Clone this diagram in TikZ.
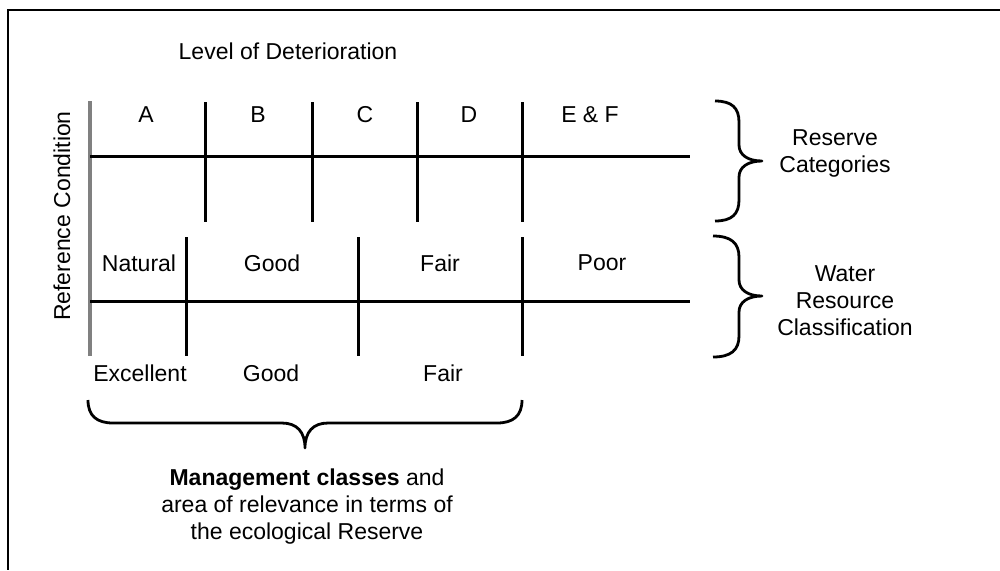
\documentclass[tikz,border=0pt]{standalone}
\usepackage{fontspec}
\setmainfont{Liberation Sans}
\begin{document}
\begin{tikzpicture}[x=0.5pt, y=-0.5pt, font=\fontsize{11.5}{13.5}\selectfont,
    grid line/.style={line width=1.5pt},
    ref line/.style={line width=2pt, black!50},
    brace line/.style={line width=1.4pt, line join=round},
    lbl/.style={inner sep=0pt}]
  \useasboundingbox (0,0) rectangle (1000,570);

  % frame (cut at right and bottom)
  \draw[line width=1pt] (1000,9.5) -- (7.5,9.5) -- (7.5,570);

  % titles
  \node[lbl] (title) at (288,51) {Level of Deterioration};
  \node[lbl, rotate=90] (refcond) at (62,216) {Reference Condition};

  % reference condition line
  \draw[ref line] (90,101) -- (90,356);

  % reserve categories grid
  \draw[grid line] (90,156) -- (690,156);
  \foreach \x in {205,312,417,522}
    \draw[grid line] (\x,102) -- (\x,222);
  \node[lbl] (catA) at (146,115) {A};
  \node[lbl] (catB) at (258,115) {B};
  \node[lbl] (catC) at (365,115) {C};
  \node[lbl] (catD) at (469,115) {D};
  \node[lbl] (catEF) at (590,115) {E \& F};

  % water resource classification grid
  \draw[grid line] (90,301) -- (690,301);
  \foreach \x in {186,358,522}
    \draw[grid line] (\x,237) -- (\x,356);
  \node[lbl] (natural) at (139,263) {Natural};
  \node[lbl] (good) at (272,263) {Good};
  \node[lbl] (fair) at (440,263) {Fair};
  \node[lbl] (poor) at (602,263) {Poor};

  % management classes
  \node[lbl] (excellent) at (140,373) {Excellent};
  \node[lbl] (mgood) at (271,373) {Good};
  \node[lbl] (mfair) at (443,373) {Fair};

  % right braces
  \draw[brace line] (715,101) .. controls (732,101) and (739,108) .. (739,122)
    -- (739,145) .. controls (739,155) and (748,161) .. (762,161)
    .. controls (748,161) and (739,167) .. (739,177)
    -- (739,200) .. controls (739,214) and (732,221) .. (715,221);
  \draw[brace line] (713,236) .. controls (731,236) and (739,243) .. (739,257)
    -- (739,280) .. controls (739,290) and (748,296) .. (762,296)
    .. controls (748,296) and (739,302) .. (739,312)
    -- (739,336) .. controls (739,350) and (731,357) .. (713,357);
  \node[lbl, align=center] (reserve) at (835,153) {Reserve\\Categories};
  \node[lbl, align=center] (wrc) at (845,301) {Water\\Resource\\Classification};

  % bottom brace
  \draw[brace line] (88,400) .. controls (88,416) and (97,423) .. (113,423)
    -- (282,423) .. controls (297,423) and (305,432) .. (305,448)
    .. controls (305,432) and (313,423) .. (328,423)
    -- (497,423) .. controls (513,423) and (522,416) .. (522,400);
  \node[lbl, align=center] (mgmt) at (307,507)
    {\textbf{Management classes} and\\area of relevance in terms of\\the ecological Reserve};
\end{tikzpicture}
\end{document}
